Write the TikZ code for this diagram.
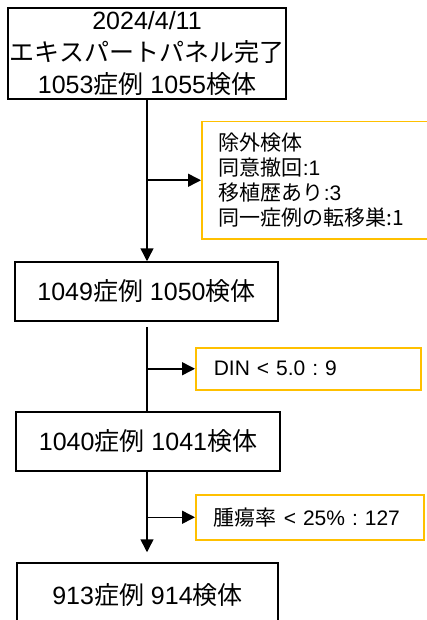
\documentclass[tikz,border=0pt]{standalone}
\usepackage{fontspec}
\setmainfont{Liberation Sans}
\newfontfamily\jpfont{Noto Sans CJK JP}
\newcommand\jtxt[1]{{\jpfont #1}}
\usetikzlibrary{arrows.meta,calc}
\definecolor{gold}{HTML}{FFC000}
\frenchspacing
\begin{document}
\begin{tikzpicture}[x=1pt,y=-1pt,
  mainbox/.style={draw=black,line width=1.5pt,fill=white,align=center,inner sep=0pt,font=\fontsize{25}{32}\selectfont},
  exbox/.style={draw=gold,line width=1.5pt,align=left,inner xsep=17pt,inner ysep=0pt,anchor=north west,font=\fontsize{21}{25}\selectfont},
  conn/.style={line width=1.5pt,draw=black},
  arr/.style={conn,-{Triangle[length=13pt,width=13pt]}}]
\useasboundingbox (0,0) rectangle (426,620);
\node[mainbox,minimum width=278pt,minimum height=91pt] (b1) at (147,53.5) {2024/4/11\\\jtxt{エキスパートパネル完了}\\1053\jtxt{症例} 1055\jtxt{検体}};
\node[mainbox,minimum width=263pt,minimum height=59pt] (b2) at (146.5,291.5) {1049\jtxt{症例} 1050\jtxt{検体}};
\node[mainbox,minimum width=264pt,minimum height=59pt] (b3) at (148,441.5) {1040\jtxt{症例} 1041\jtxt{検体}};
\node[mainbox,minimum width=261pt,minimum height=64pt] (b4) at (147.5,595) {913\jtxt{症例} 914\jtxt{検体}};
\node[exbox,text width=206pt,minimum height=117pt] (e1) at (201,121) {\jtxt{除外検体}\\\jtxt{同意撤回}:1\\\jtxt{移植歴あり}:3\\\jtxt{同一症例の転移巣:1}};
\node[exbox,text width=189pt,minimum height=42pt,inner xsep=18pt] (e2) at (195,347) {DIN < 5.0 : 9};
\node[exbox,text width=192pt,minimum height=45pt,inner xsep=18pt] (e3) at (195,494) {\jtxt{腫瘍率} < 25\% : 127};
\coordinate (s2) at ($(b1.south |- b2.south)+(0,5)$);
\draw[arr] (b1.south) -- (b1.south |- b2.north);
\draw[conn] (s2) -- (b1.south |- b3.north);
\draw[arr,shorten >=10pt] (b1.south |- b3.south) -- (b1.south |- b4.north);
\draw[arr] (b1.south |- e1.west) -- (e1.west);
\draw[arr] (b1.south |- e2.west) -- (e2.west);
\draw[arr] (b1.south |- e3.west) -- (e3.west);
\end{tikzpicture}
\end{document}
